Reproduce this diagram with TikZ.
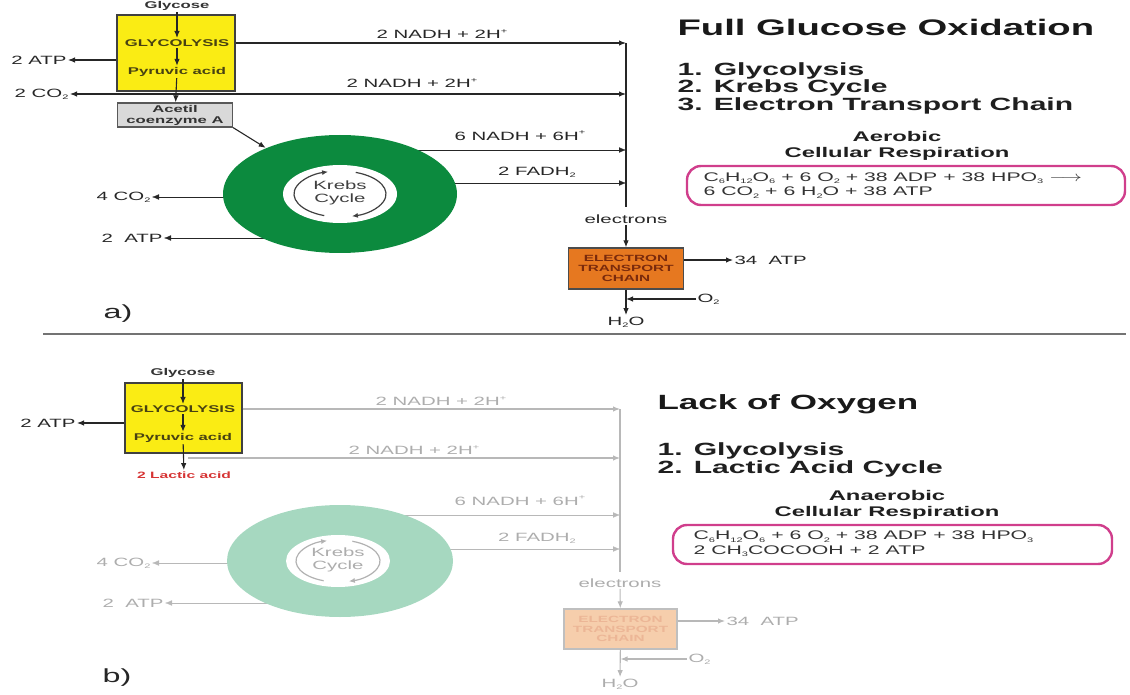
\documentclass[tikz,border=0pt]{standalone}
\usepackage{fontspec}
\setmainfont{Liberation Sans}[FakeStretch=1.7]
\usepackage{graphicx}
\usetikzlibrary{arrows.meta,positioning,calc,shapes.geometric,backgrounds}

\definecolor{glyyellow}{RGB}{250,236,20}
\definecolor{glytext}{RGB}{72,66,18}
\definecolor{krebsgreen}{RGB}{12,138,62}
\definecolor{krebsfade}{RGB}{166,216,192}
\definecolor{etcorange}{RGB}{230,120,32}
\definecolor{etctext}{RGB}{122,42,12}
\definecolor{etcfade}{RGB}{246,206,172}
\definecolor{etcfadetext}{RGB}{236,182,150}
\definecolor{eqmagenta}{RGB}{208,62,140}
\definecolor{lacred}{RGB}{214,52,52}

% small sub/superscripts as in the figure
\newcommand{\sbs}[1]{\raisebox{-0.35ex}{\fontsize{6.5}{6.5}\selectfont #1}}
\newcommand{\sps}[1]{\raisebox{0.9ex}{\fontsize{6.5}{6.5}\selectfont #1}}

\begin{document}
\begin{tikzpicture}[
  x=1pt, y=-1pt, >={Latex[length=7pt,width=5.5pt]}, line width=1.1pt,
  box/.style={draw=black!75, line width=1.3pt, inner sep=0pt},
  glybox/.style={box, fill=glyyellow, minimum width=118pt, minimum height=76pt},
  acetbox/.style={box, fill=black!15, draw=black!65, minimum width=115pt, minimum height=24pt,
                  align=center, font=\fontsize{9.8}{11}\selectfont\bfseries, text=black!80},
  etcbox/.style={box, fill=etcorange, draw=black!70, minimum width=115pt, minimum height=41pt,
                 align=center, font=\fontsize{9}{9.6}\selectfont\bfseries, text=etctext},
  etcfaded/.style={etcbox, fill=etcfade, draw=black!25, text=etcfadetext},
  ring/.style={ellipse, inner sep=0pt, fill=krebsgreen},
  hole/.style={ellipse, inner sep=0pt, fill=white},
  steplbl/.style={font=\fontsize{9.8}{10}\selectfont\bfseries, text=glytext, inner sep=1pt},
  lbl/.style={font=\fontsize{12}{12.6}\selectfont, text=black!85, inner sep=1pt},
  fadelbl/.style={lbl, text=black!32},
  conn/.style={->, draw=black!85},
  fadeconn/.style={->, draw=black!28},
  bus/.style={draw=black!85},
  cyc/.style={->, draw=black!75, line width=1.2pt, >={Latex[length=6pt,width=5pt]}},
  heading/.style={font=\fontsize{22.5}{24}\selectfont\bfseries, text=black!90, anchor=west, inner sep=0pt},
  steplist/.style={font=\fontsize{17.7}{17.5}\selectfont\bfseries, align=left, anchor=west,
                   inner sep=0pt, text=black!88},
  resphead/.style={font=\fontsize{14}{16}\selectfont\bfseries, align=center, text=black!88, inner sep=0pt},
  eqbox/.style={draw=eqmagenta, line width=2.4pt, rounded corners=14pt, minimum height=39pt, inner sep=0pt},
  eqtext/.style={font=\fontsize{12.5}{14.5}\selectfont, align=left, anchor=west, inner sep=0pt, text=black!80},
  panel/.style={font=\fontsize{19}{20}\selectfont, text=black!85},
  sep/.style={draw=black!55, line width=1.5pt}
]
  \useasboundingbox (0,0) rectangle (1130,695);

  % --- a) full glucose oxidation: glycolysis column ---
  \node[glybox] (gly1) at (176,53) {};
  \node[steplbl, text=black!80] (glc1) at (177,6) {Glycose};
  \node[steplbl] (glyc1) at (177,43) {GLYCOLYSIS};
  \node[steplbl] (pyr1) at (177,72) {Pyruvic acid};
  \node[acetbox] (acet1) at (175,115) {Acetil\\coenzyme A};
  \draw[conn] (glc1) -- (glyc1);
  \draw[conn] (glyc1) -- (pyr1);
  \draw[conn] (pyr1) -- (acet1);

  \node[lbl, anchor=east] (atp1) at (68,60) {2 ATP};
  \node[lbl, anchor=east] (co2a) at (70,94) {2 CO\sbs{2}};
  \draw[conn] (gly1.west |- atp1) -- (atp1);

  % --- electron bus ---
  \coordinate (bus1t) at (626,43);
  \coordinate (bus1b) at (626,207);
  \draw[bus] (bus1t) -- (bus1b);
  \draw[conn] (gly1.east |- glyc1) -- (bus1t);
  \draw[conn] (pyr1 |- co2a) -- (co2a);
  \draw[conn] (pyr1 |- co2a) -- (co2a -| bus1t);
  \node[lbl] (nadh1) at (442,34) {2 NADH + 2H\sps{+}};
  \node[lbl] (nadh2) at (412,83) {2 NADH + 2H\sps{+}};

  % --- Krebs ring ---
  \node[ring, minimum width=234pt, minimum height=118pt] (krebs1) at (340,194) {};
  \node[hole, minimum width=114pt, minimum height=58pt] (hole1) at (340,194) {};
  \node[lbl, align=center, text=black!75] (kt1) at (340,193) {Krebs\\Cycle};
  \draw[cyc] ([shift={(110:46 and 23)}]hole1.center) arc[start angle=110, end angle=255, x radius=46, y radius=23];
  \draw[cyc] ([shift={(290:46 and 23)}]hole1.center) arc[start angle=290, end angle=435, x radius=46, y radius=23];
  \draw[conn] (acet1.south east) -- (krebs1);

  \node[lbl] (nadh3) at (520,136) {6 NADH + 6H\sps{+}};
  \node[lbl] (fadh1) at (537,172) {2 FADH\sbs{2}};
  \node[lbl, anchor=east] (co2b) at (152,197) {4 CO\sbs{2}};
  \node[lbl, anchor=east] (atp2) at (164,238) {2~ ATP};
  \coordinate (k1n) at (340,150);
  \coordinate (k1f) at (340,183);
  \begin{scope}[on background layer]
    \draw[conn] (k1n) -- (k1n -| bus1t);
    \draw[conn] (k1f) -- (k1f -| bus1t);
    \draw[conn] (co2b -| krebs1) -- (co2b);
    \draw[conn] (atp2 -| krebs1) -- (atp2);
  \end{scope}

  % --- electron transport chain ---
  \node[lbl] (elec1) at (626,219) {electrons};
  \node[etcbox] (etc1) at (626,268.5) {ELECTRON\\TRANSPORT\\CHAIN};
  \node[lbl, anchor=west] (atp3) at (733,260) {34\ \ ATP};
  \node[lbl] (h2o1) at (626,322) {H\sbs{2}O};
  \node[lbl, anchor=west] (o2a) at (696,299) {O\sbs{2}};
  \draw[conn] (elec1) -- (etc1);
  \draw[conn] (etc1.east |- atp3) -- (atp3);
  \draw[conn] (etc1) -- (h2o1);
  \draw[conn] (o2a) -- (o2a -| etc1);
  \node[panel] (pa) at (118,314) {a)};

  % --- a) text block ---
  \node[heading] (hd1) at (677,27) {Full Glucose Oxidation};
  \node[steplist] (lst1) at (677,88) {1. Glycolysis\\2. Krebs Cycle\\3. Electron Transport Chain};
  \node[resphead] (rh1) at (897,146) {Aerobic\\Cellular Respiration};
  \node[eqbox, minimum width=438pt] (eqb1) at (906,185.5) {};
  \node[eqtext] (eq1) at (703,185.5)
       {C\sbs{6}H\sbs{12}O\sbs{6} + 6 O\sbs{2} + 38 ADP + 38 HPO\sbs{3} \scalebox{1.7}[1.2]{$\longrightarrow$}\\
        6 CO\sbs{2} + 6 H\sbs{2}O + 38 ATP};

  \draw[sep] (43,334) -- (1126,334);

  % --- b) lack of oxygen: glycolysis column ---
  \node[glybox, minimum width=117pt, minimum height=70pt] (gly2) at (183.5,418) {};
  \node[steplbl, text=black!80] (glc2) at (183,373) {Glycose};
  \node[steplbl] (glyc2) at (183,409) {GLYCOLYSIS};
  \node[steplbl] (pyr2) at (183,438) {Pyruvic acid};
  \node[steplbl, text=lacred, font=\fontsize{9.2}{10}\selectfont\bfseries] (lac2) at (184,475) {2 Lactic acid};
  \draw[conn] (glc2) -- (glyc2);
  \draw[conn] (glyc2) -- (pyr2);
  \draw[conn] (pyr2) -- (lac2);
  \node[lbl, anchor=east] (atp4) at (77,423) {2 ATP};
  \draw[conn] (gly2.west |- atp4) -- (atp4);

  % --- faded bus ---
  \coordinate (bus2t) at (620,409);
  \coordinate (bus2b) at (620,572);
  \coordinate (n2b) at (188,458);
  \draw[draw=black!28] (bus2t) -- (bus2b);
  \draw[fadeconn] (gly2.east |- glyc2) -- (bus2t);
  \draw[fadeconn] (n2b) -- (n2b -| bus2t);
  \node[fadelbl] (nadh4) at (441,401) {2 NADH + 2H\sps{+}};
  \node[fadelbl] (nadh5) at (414,450) {2 NADH + 2H\sps{+}};

  % --- faded Krebs ring ---
  \node[ring, fill=krebsfade, minimum width=226pt, minimum height=112pt] (krebs2) at (340,561) {};
  \node[hole, minimum width=104pt, minimum height=52pt] (hole2) at (338,561) {};
  \node[fadelbl, align=center] (kt2) at (338,560) {Krebs\\Cycle};
  \draw[cyc, draw=black!30] ([shift={(110:42 and 21)}]hole2.center) arc[start angle=110, end angle=255, x radius=42, y radius=21];
  \draw[cyc, draw=black!30] ([shift={(290:42 and 21)}]hole2.center) arc[start angle=290, end angle=435, x radius=42, y radius=21];

  \node[fadelbl] (nadh6) at (520,501) {6 NADH + 6H\sps{+}};
  \node[fadelbl] (fadh2) at (537,538) {2 FADH\sbs{2}};
  \node[fadelbl, anchor=east] (co2c) at (152,563) {4 CO\sbs{2}};
  \node[fadelbl, anchor=east] (atp5) at (165,603) {2~ ATP};
  \coordinate (k2n) at (340,515);
  \coordinate (k2f) at (340,549);
  \begin{scope}[on background layer]
    \draw[fadeconn] (k2n) -- (k2n -| bus2t);
    \draw[fadeconn] (k2f) -- (k2f -| bus2t);
    \draw[fadeconn] (co2c -| krebs2) -- (co2c);
    \draw[fadeconn] (atp5 -| krebs2) -- (atp5);
  \end{scope}

  % --- faded electron transport chain ---
  \node[fadelbl] (elec2) at (620,583) {electrons};
  \node[etcfaded, minimum width=113pt, minimum height=40pt] (etc2) at (620.5,629) {ELECTRON\\TRANSPORT\\CHAIN};
  \node[fadelbl, anchor=west] (atp6) at (725,621) {34\ \ ATP};
  \node[fadelbl] (h2o2) at (620,684) {H\sbs{2}O};
  \node[fadelbl, anchor=west] (o2b) at (687,659) {O\sbs{2}};
  \draw[fadeconn] (elec2) -- (etc2);
  \draw[fadeconn] (etc2.east |- atp6) -- (atp6);
  \draw[fadeconn] (etc2) -- (h2o2);
  \draw[fadeconn] (o2b) -- (o2b -| etc2);
  \node[panel] (pb) at (117,678) {b)};

  % --- b) text block ---
  \node[heading, font=\fontsize{20.6}{22}\selectfont\bfseries] (hd2) at (657,404) {Lack of Oxygen};
  \node[steplist] (lst2) at (657,460) {1. Glycolysis\\2. Lactic Acid Cycle};
  \node[resphead] (rh2) at (887,505) {Anaerobic\\Cellular Respiration};
  \node[eqbox, minimum width=439pt] (eqb2) at (892.5,544.5) {};
  \node[eqtext] (eq2) at (693,544)
       {C\sbs{6}H\sbs{12}O\sbs{6} + 6 O\sbs{2} + 38 ADP + 38 HPO\sbs{3}\\
        2 CH\sbs{3}COCOOH + 2 ATP};
\end{tikzpicture}
\end{document}
